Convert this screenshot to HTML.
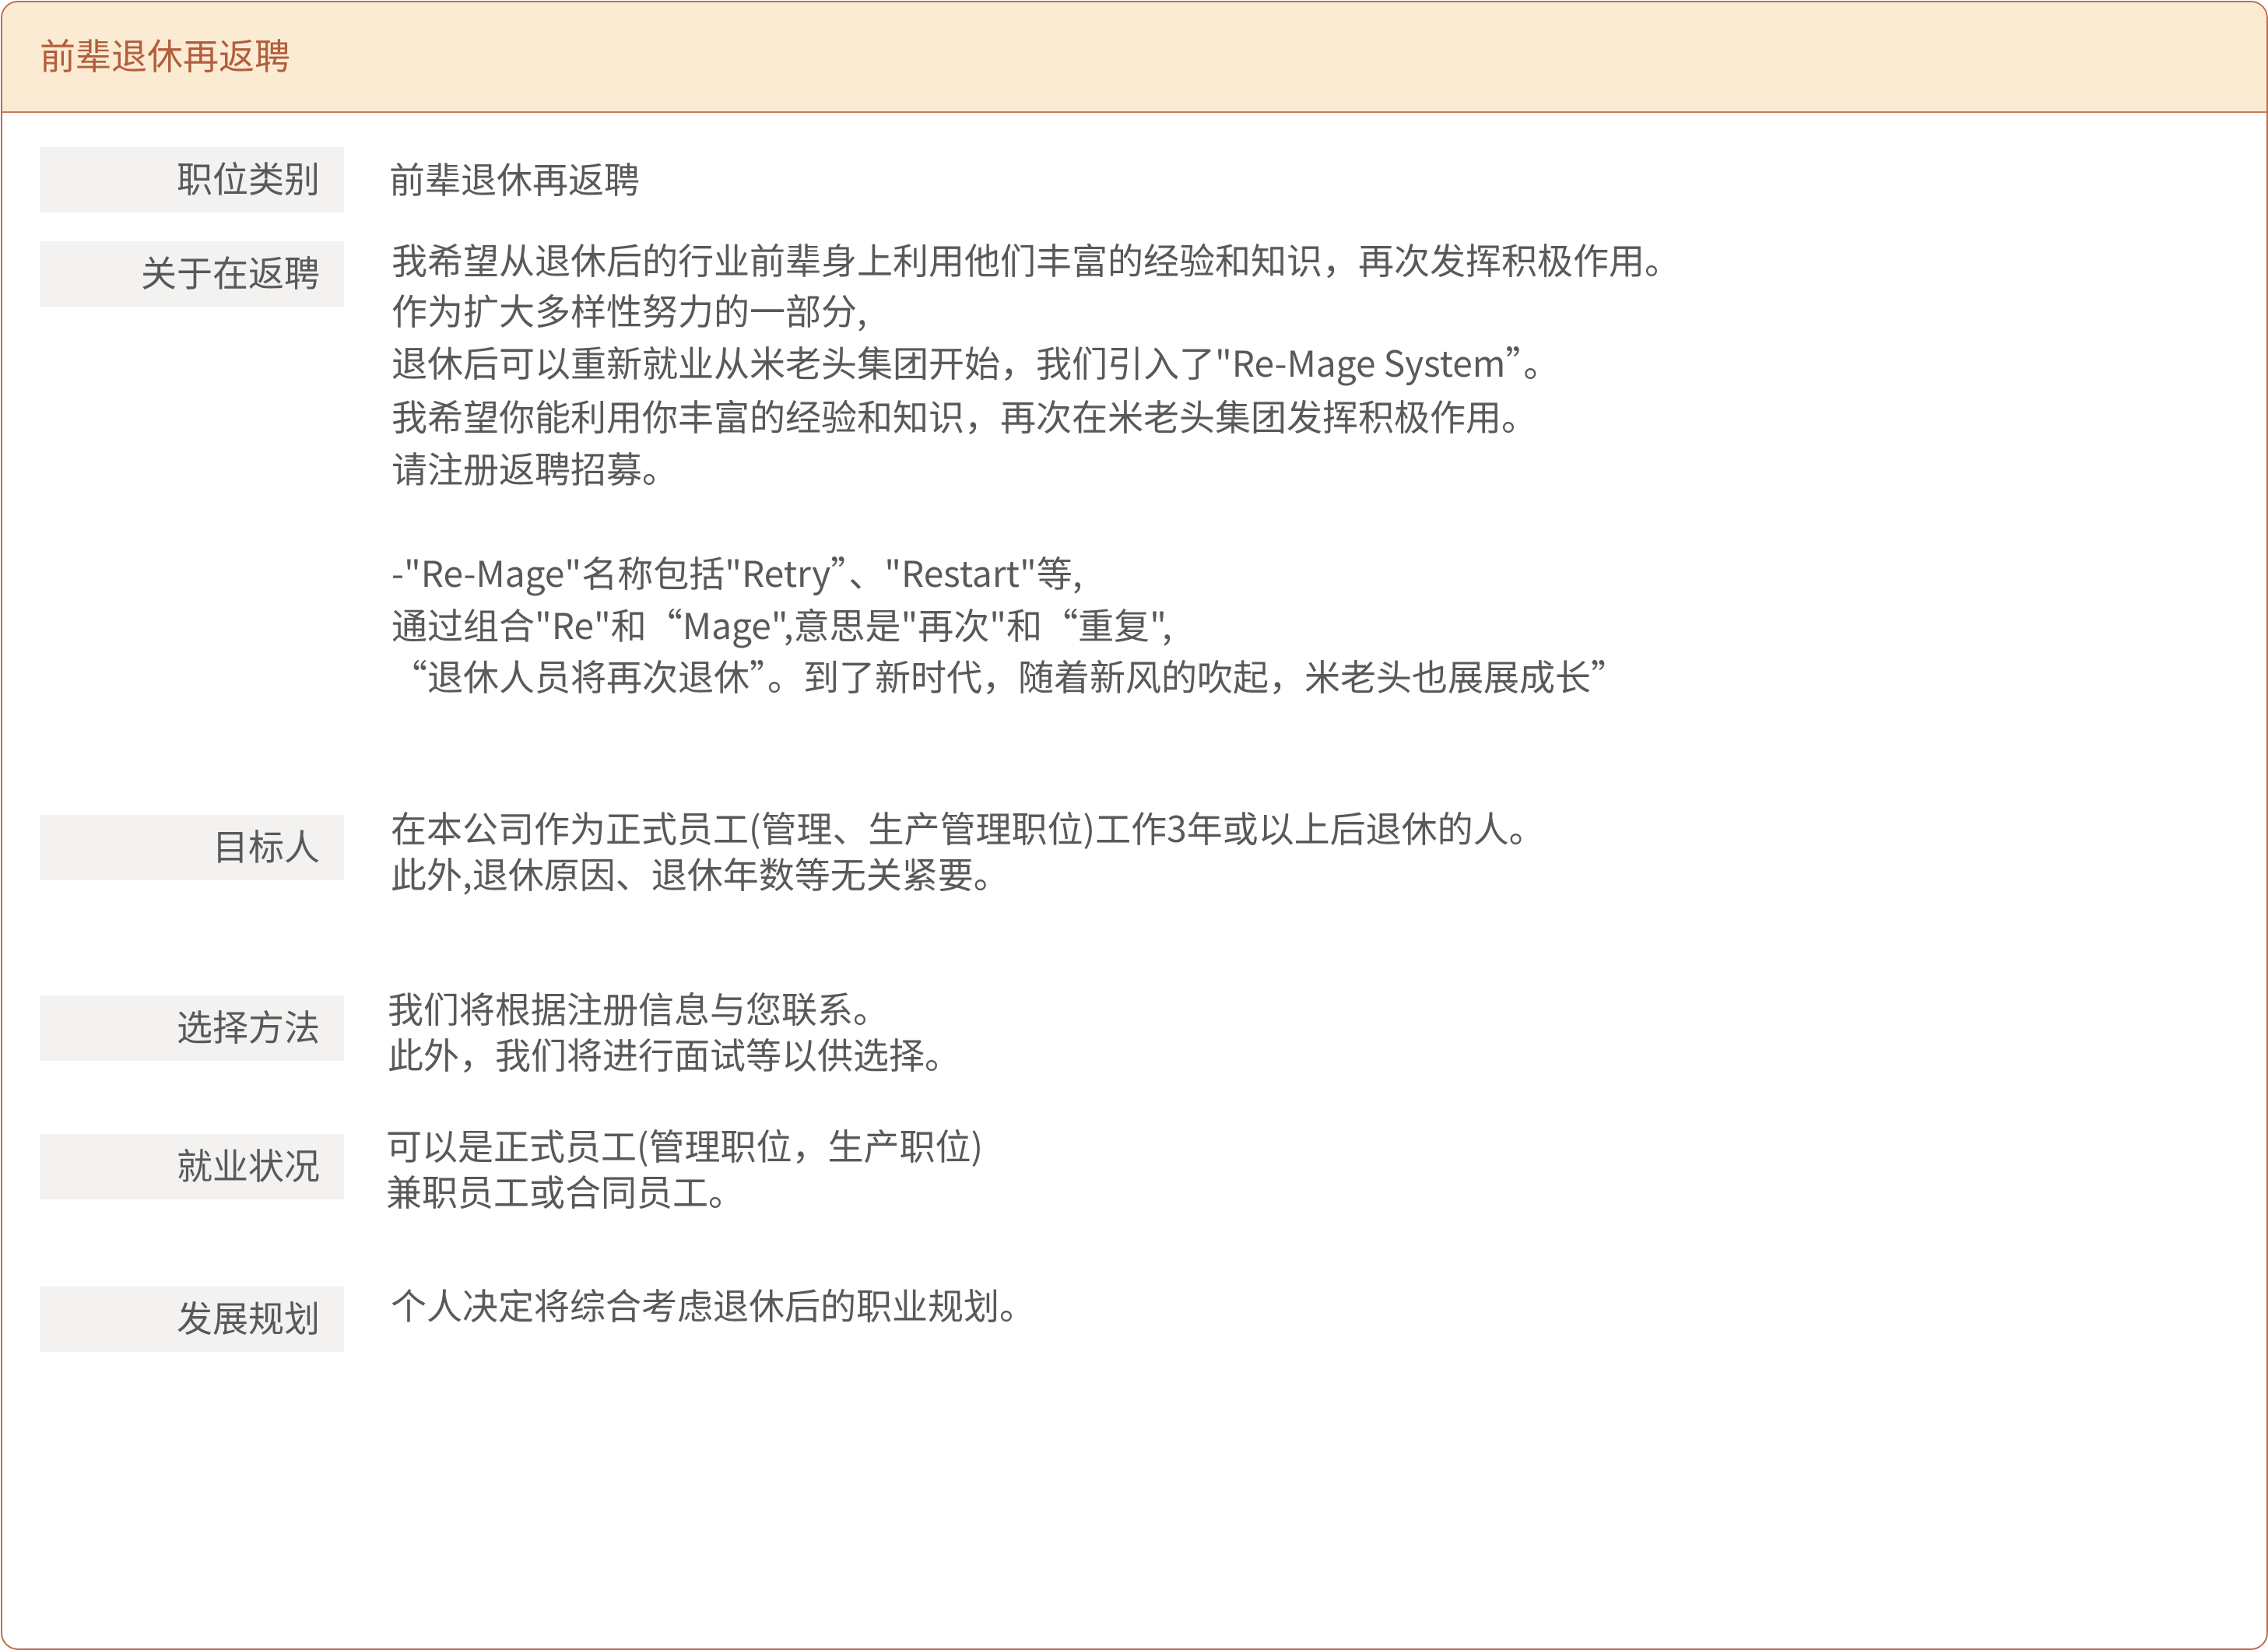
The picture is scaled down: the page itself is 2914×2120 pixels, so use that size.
<!DOCTYPE html>
<html><head><meta charset="utf-8"><style>
html,body{margin:0;padding:0;background:#fff;}
body{width:2914px;height:2120px;position:relative;overflow:hidden;font-family:"Noto Sans CJK SC","Liberation Sans",sans-serif;}
.frame{position:absolute;left:1px;top:1px;width:2909px;height:2115px;border:2px solid #bf6e50;border-radius:22px;overflow:hidden;}
.hdr{position:absolute;left:0;top:0;right:0;height:140px;background:#fcebd3;border-bottom:2px solid #c87a58;}
.title{position:absolute;left:48px;top:35px;font-size:46px;line-height:64px;color:#b25e3c;white-space:nowrap;}
.lab{position:absolute;left:51px;width:391px;height:84px;background:#f3f2f0;}
.lab span{position:absolute;right:31px;top:7px;font-size:46px;line-height:64px;color:#595959;white-space:nowrap;}
.t{position:absolute;font-size:46px;line-height:64px;color:#595959;white-space:nowrap;margin-top:-3px;}
</style></head><body>
<div class="frame">
<div class="hdr"><div class="title">前辈退休再返聘</div></div>
</div>

<div class="lab" style="top:189px"><span>职位类别</span></div>
<div class="t" style="left:500px;top:200px">前辈退休再返聘</div>

<div class="lab" style="top:310px"><span>关于在返聘</span></div>
<div class="t" style="left:503px;top:304px">我希望从退休后的行业前辈身上利用他们丰富的经验和知识，再次发挥积极作用。</div>
<div class="t" style="left:503px;top:369px">作为扩大多样性努力的一部分,</div>
<div class="t" style="left:503px;top:436px">退休后可以重新就业从米老头集团开始，我们引入了"Re-Mage System”。</div>
<div class="t" style="left:503px;top:505px">我希望你能利用你丰富的经验和知识，再次在米老头集团发挥积极作用。</div>
<div class="t" style="left:503px;top:572px">请注册返聘招募。</div>
<div class="t" style="left:503px;top:706px">-"Re-Mage"名称包括"Retry”、"Restart"等,</div>
<div class="t" style="left:503px;top:773px">通过组合"Re"和“Mage",意思是"再次"和“重复",</div>
<div class="t" style="left:503px;top:839px">“退休人员将再次退休”。到了新时代，随着新风的吹起，米老头也展展成长”</div>

<div class="lab" style="top:1047px"><span>目标人</span></div>
<div class="t" style="left:502px;top:1034px">在本公司作为正式员工(管理、生产管理职位)工作3年或以上后退休的人。</div>
<div class="t" style="left:502px;top:1093px">此外,退休原因、退休年数等无关紧要。</div>

<div class="lab" style="top:1279px"><span>选择方法</span></div>
<div class="t" style="left:498px;top:1266px">我们将根据注册信息与您联系。</div>
<div class="t" style="left:498px;top:1325px">此外，我们将进行面试等以供选择。</div>

<div class="lab" style="top:1457px"><span>就业状况</span></div>
<div class="t" style="left:496px;top:1442px">可以是正式员工(管理职位，生产职位)</div>
<div class="t" style="left:496px;top:1501px">兼职员工或合同员工。</div>

<div class="lab" style="top:1653px"><span>发展规划</span></div>
<div class="t" style="left:502px;top:1647px">个人决定将综合考虑退休后的职业规划。</div>
</body></html>
